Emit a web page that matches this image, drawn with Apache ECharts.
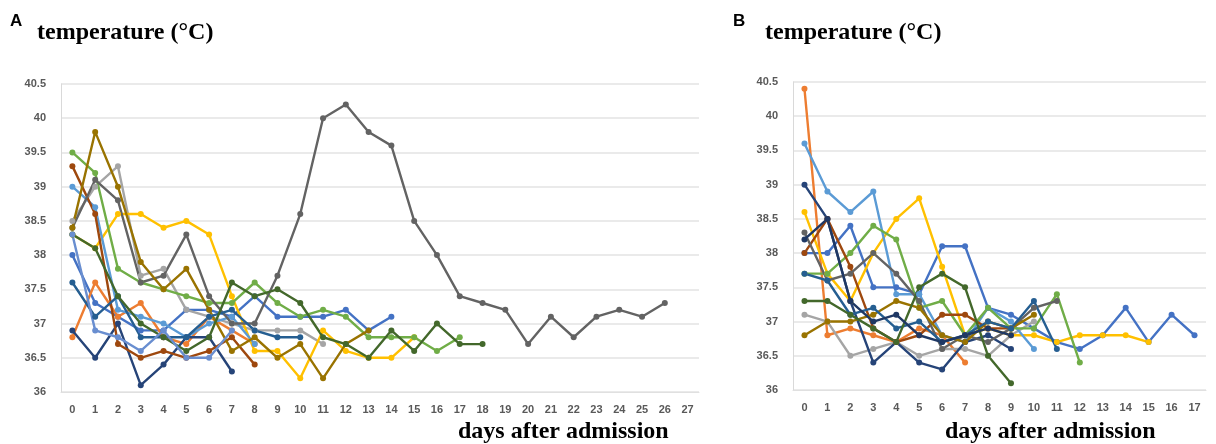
<!DOCTYPE html>
<html>
<head>
<meta charset="utf-8">
<script src="https://cdn.jsdelivr.net/npm/echarts@6/dist/echarts.min.js"></script>
<style>html,body{margin:0;padding:0;background:#fff}#c{width:1216px;height:444px}</style>
</head>
<body>
<div id="c"></div>
<script>
// ---------- DATA ----------
const daysA = ['0','1','2','3','4','5','6','7','8','9','10','11','12','13','14','15','16','17','18','19','20','21','22','23','24','25','26','27'];
const daysB = ['0','1','2','3','4','5','6','7','8','9','10','11','12','13','14','15','16','17'];
const yTicks = [36, 40.5, 0.5]; // min, max, step

// Panel A patients
const a_darkgray = [38.4,39.1,38.8,37.6,37.7,38.3,37.4,37.0,37.0,37.7,38.6,40.0,40.2,39.8,39.6,38.5,38.0,37.4,37.3,37.2,36.7,37.1,36.8,37.1,37.2,37.1,37.3];
const a_brown    = [38.4,39.8,39.0,37.9,37.5,37.8,37.2,36.6,36.8,36.5,36.7,36.2,36.7,36.9];
const a_gray     = [38.5,39.0,39.3,37.7,37.8,37.2,37.1,37.0,36.9,36.9,36.9,36.7];
const a_yellow   = [38.3,38.1,38.6,38.6,38.4,38.5,38.3,37.4,36.6,36.6,36.2,36.9,36.6,36.5,36.5,36.8];
const a_green    = [39.5,39.2,37.8,37.6,37.5,37.4,37.3,37.3,37.6,37.3,37.1,37.2,37.1,36.8,36.8,36.8,36.6,36.8];
const a_dkgreen  = [38.3,38.1,37.4,37.0,36.8,36.6,36.8,37.6,37.4,37.5,37.3,36.8,36.7,36.5,36.9,36.6,37.0,36.7,36.7];
const a_darkred  = [39.3,38.6,36.7,36.5,36.6,36.5,36.6,36.8,36.4];
const a_orange   = [36.8,37.6,37.1,37.3,36.8,36.7,37.1,36.9,36.7];
const a_ltblue   = [39.0,38.7,37.2,37.1,37.0,36.8,37.0,37.1,36.7];
const a_navy     = [36.9,36.5,37.0,36.1,36.4,36.8,36.8,36.3];
const a_steel    = [37.6,37.1,37.4,36.8,36.8,36.8,37.1,37.2,36.9,36.8,36.8];
const a_blue     = [38.0,37.3,37.1,36.9,36.9,37.2,37.2,37.1,37.4,37.1,37.1,37.1,37.2,36.9,37.1];
const a_paleblue = [38.3,36.9,36.8,36.6,36.9,36.5,36.5,36.9];

// Panel B patients
const b_orange   = [40.4,36.8,36.9,36.8,36.7,36.9,36.8,36.4];
const b_ltblue   = [39.6,38.9,38.6,38.9,37.4,37.4,36.8,36.7,37.2,37.0,36.6];
const b_blue     = [38.0,38.0,38.4,37.5,37.5,37.4,38.1,38.1,37.2,37.1,36.9,36.7,36.6,36.8,37.2,36.7,37.1,36.8];
const b_yellow   = [38.6,37.7,37.3,38.0,38.5,38.8,37.8,36.8,36.9,36.8,36.8,36.7,36.8,36.8,36.8,36.7];
const b_green    = [37.7,37.7,38.0,38.4,38.2,37.2,37.3,36.8,37.2,36.9,36.9,37.4,36.4];
const b_dkgreen  = [37.3,37.3,37.1,36.9,36.7,37.5,37.7,37.5,36.5,36.1];
const b_darkgray = [38.3,37.6,37.7,38.0,37.7,37.3,36.6,36.8,36.7,36.9,37.2,37.3];
const b_gray     = [37.1,37.0,36.5,36.6,36.7,36.5,36.6,36.6,36.5,36.8,37.0];
const b_navy     = [39.0,38.5,37.3,36.4,36.7,36.4,36.3,36.7,36.8,36.6];
const b_dkblue   = [38.2,38.5,37.3,37.0,37.1,36.8,36.7,36.8,36.9,36.8];
const b_darkred  = [38.0,38.5,37.8,36.9,36.7,36.8,37.1,37.1,36.9,36.9];
const b_brown    = [36.8,37.0,37.0,37.1,37.3,37.2,36.8,36.7,37.0,36.9,37.1];
const b_steel    = [37.7,37.6,37.1,37.2,36.9,37.0,36.7,36.8,37.0,36.9,37.3,36.6];

const seriesA = [
  ['#4472C4', a_blue], ['#ED7D31', a_orange], ['#A5A5A5', a_gray], ['#FFC000', a_yellow],
  ['#5B9BD5', a_ltblue], ['#70AD47', a_green], ['#264478', a_navy], ['#9E480E', a_darkred],
  ['#636363', a_darkgray], ['#997300', a_brown], ['#255E91', a_steel], ['#43682B', a_dkgreen],
  ['#698ED0', a_paleblue]
];
const seriesB = [
  ['#4472C4', b_blue], ['#ED7D31', b_orange], ['#A5A5A5', b_gray], ['#FFC000', b_yellow],
  ['#5B9BD5', b_ltblue], ['#70AD47', b_green], ['#264478', b_navy], ['#9E480E', b_darkred],
  ['#636363', b_darkgray], ['#997300', b_brown], ['#255E91', b_steel], ['#43682B', b_dkgreen],
  ['#1F3864', b_dkblue]
];

// ---------- CHART ----------
const chart = echarts.init(document.getElementById('c'), null, {renderer: 'canvas'});
const tickFont = {color: '#595959', fontSize: 11, fontWeight: 'bold', fontFamily: 'Liberation Sans, Arial, sans-serif'};
const serif = 'Liberation Serif, Times New Roman, serif';

function yAx(gi) {
  return {
    type: 'value', gridIndex: gi, min: yTicks[0], max: yTicks[1], interval: yTicks[2],
    axisLine: {show: true, lineStyle: {color: '#d9d9d9', width: 1}},
    axisTick: {show: false},
    axisLabel: Object.assign({margin: 15}, tickFont),
    splitLine: {lineStyle: {color: '#eaeaea', width: 2}}
  };
}
function xAx(gi, cats) {
  return {
    type: 'category', gridIndex: gi, data: cats, boundaryGap: true,
    axisLine: {show: true, lineStyle: {color: '#e0e0e0', width: 1}},
    axisTick: {show: false},
    axisLabel: Object.assign({margin: 12, interval: 0}, tickFont),
    splitLine: {show: false}
  };
}
function mk(list, gi) {
  return list.map(([col, d]) => ({
    type: 'line', xAxisIndex: gi, yAxisIndex: gi, data: d,
    symbol: 'circle', symbolSize: 6, showSymbol: true,
    lineStyle: {color: col, width: 2.4}, itemStyle: {color: col},
    animation: false
  }));
}

chart.setOption({
  animation: false,
  backgroundColor: '#fff',
  grid: [
    {left: 61, top: 84, width: 638, height: 308},
    {left: 793, top: 82, width: 413, height: 308}
  ],
  xAxis: [xAx(0, daysA), xAx(1, daysB)],
  yAxis: [yAx(0), yAx(1)],
  graphic: [
    {type: 'text', left: 10, top: 13, style: {text: 'A', font: 'bold 17px Liberation Sans, Arial, sans-serif', fill: '#000'}},
    {type: 'text', left: 37, top: 21, style: {text: 'temperature (°C)', font: 'bold 24px ' + serif, fill: '#000'}},
    {type: 'text', left: 458, top: 420, style: {text: 'days after admission', font: 'bold 24px ' + serif, fill: '#000'}},
    {type: 'text', left: 733, top: 13, style: {text: 'B', font: 'bold 17px Liberation Sans, Arial, sans-serif', fill: '#000'}},
    {type: 'text', left: 765, top: 21, style: {text: 'temperature (°C)', font: 'bold 24px ' + serif, fill: '#000'}},
    {type: 'text', left: 945, top: 420, style: {text: 'days after admission', font: 'bold 24px ' + serif, fill: '#000'}}
  ],
  series: mk(seriesA, 0).concat(mk(seriesB, 1))
});
</script>
</body>
</html>
